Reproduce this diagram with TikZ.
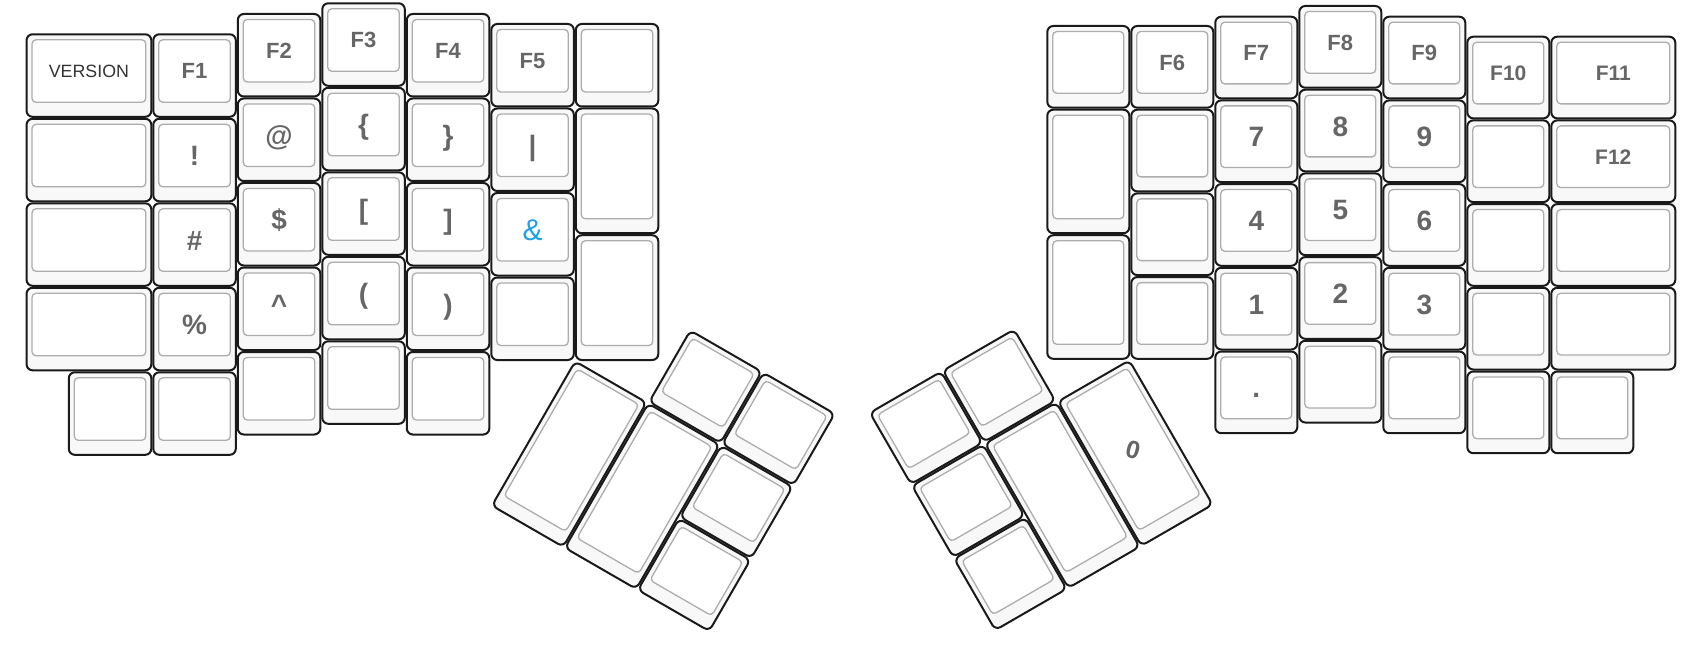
\documentclass[tikz,border=0pt]{standalone}
\usepackage{fontspec}
\setmainfont{Liberation Sans}
\definecolor{keyfill}{HTML}{F8F8F8}
\definecolor{keyline}{HTML}{1A1A1A}
\definecolor{innerline}{HTML}{ADADAD}
\definecolor{labelgray}{HTML}{666666}
\definecolor{vergray}{HTML}{333333}
\definecolor{ampblue}{HTML}{1DA1E6}
\newcounter{kc}
\def\Ux{84.5}\def\Uy{84.5}
\tikzset{
  keyout/.style={draw=keyline, fill=keyfill, line width=1pt, rounded corners=3pt},
  keyin/.style={draw=innerline, fill=white, line width=0.65pt, rounded corners=2pt},
  klabel/.style={text=labelgray, inner sep=0pt, text depth=0pt,
    font=\bfseries\fontsize{14}{16}\selectfont, text height=10pt},
  fk/.style={font=\bfseries\fontsize{11}{13}\selectfont, text height=7.9pt},
  fkk/.style={font=\bfseries\fontsize{10.5}{12}\selectfont, text height=7.5pt},
  ver/.style={font=\fontsize{8.9}{10}\selectfont, text height=6.4pt, text=vergray},
  amp/.style={font=\fontsize{15}{17}\selectfont, text height=10.7pt, text=ampblue},
  zero/.style={font=\bfseries\fontsize{12.5}{14}\selectfont, text height=9pt, rotate=-15},
}
% \kk[label style]{x}{y}{w}{h}{label}
\newcommand{\kk}[6][]{%
  \draw[keyout] ({#2+1},{#3+1}) rectangle ({#2+#4*\Ux-1},{#3+#5*\Uy-1});
  \draw[keyin] ({#2+6.5},{#3+6.5}) rectangle ({#2+#4*\Ux-6.5},{#3+#5*\Uy-15.5});
  \if\relax\detokenize{#6}\relax\else
    \stepcounter{kc}%
    \node[klabel,#1] (key\arabic{kc}) at ({#2+#4*\Ux/2},{#3+#5*\Uy/2-4.5}) {#6};
  \fi
}
\begin{document}
\begin{tikzpicture}[x=0.5pt,y=-0.5pt]
\useasboundingbox[fill=white] (0,0) rectangle (1699,658);
% ---------------- left half ----------------
\def\Ux{84.5}\def\Uy{84.5}
\kk[ver]{25.55}{33.3}{1.5}{1}{VERSION}
\kk{25.55}{117.8}{1.5}{1}{}
\kk{25.55}{202.3}{1.5}{1}{}
\kk{25.55}{286.8}{1.5}{1}{}
\kk{67.8}{371.3}{1}{1}{}
\kk[fk]{152.3}{33.3}{1}{1}{F1}
\kk{152.3}{117.8}{1}{1}{!}
\kk{152.3}{202.3}{1}{1}{\#}
\kk{152.3}{286.8}{1}{1}{\%}
\kk{152.3}{371.3}{1}{1}{}
\kk[fk]{236.8}{13}{1}{1}{F2}
\kk{236.8}{97.5}{1}{1}{@}
\kk{236.8}{182}{1}{1}{\$}
\kk{236.8}{266.5}{1}{1}{\textasciicircum}
\kk{236.8}{351}{1}{1}{}
\kk[fk]{321.3}{2.3}{1}{1}{F3}
\kk{321.3}{86.8}{1}{1}{\{}
\kk{321.3}{171.3}{1}{1}{[}
\kk{321.3}{255.8}{1}{1}{(}
\kk{321.3}{340.3}{1}{1}{}
\kk[fk]{405.8}{13}{1}{1}{F4}
\kk{405.8}{97.5}{1}{1}{\}}
\kk{405.8}{182}{1}{1}{]}
\kk{405.8}{266.5}{1}{1}{)}
\kk{405.8}{351}{1}{1}{}
\kk[fk]{490.3}{23}{1}{1}{F5}
\kk{490.3}{107.5}{1}{1}{|}
\kk[amp]{490.3}{192}{1}{1}{\&}
\kk{490.3}{276.5}{1}{1}{}
\kk{574.8}{23}{1}{1}{}
\kk{574.8}{107.5}{1}{1.5}{}
\kk{574.8}{234.25}{1}{1.5}{}
% ---------------- right half ----------------
\def\Ux{84}\def\Uy{83.7}
\kk{1046.3}{25}{1}{1}{}
\kk{1046.3}{108.7}{1}{1.5}{}
\kk{1046.3}{234.25}{1}{1.5}{}
\kk[fk]{1130.3}{25}{1}{1}{F6}
\kk{1130.3}{108.7}{1}{1}{}
\kk{1130.3}{192.4}{1}{1}{}
\kk{1130.3}{276.1}{1}{1}{}
\kk[fk]{1214.3}{15.7}{1}{1}{F7}
\kk{1214.3}{99.4}{1}{1}{7}
\kk{1214.3}{183.1}{1}{1}{4}
\kk{1214.3}{266.8}{1}{1}{1}
\kk{1214.3}{350.5}{1}{1}{.}
\kk[fk]{1298.3}{5}{1}{1}{F8}
\kk{1298.3}{88.7}{1}{1}{8}
\kk{1298.3}{172.4}{1}{1}{5}
\kk{1298.3}{256.1}{1}{1}{2}
\kk{1298.3}{339.8}{1}{1}{}
\kk[fk]{1382.3}{15.7}{1}{1}{F9}
\kk{1382.3}{99.4}{1}{1}{9}
\kk{1382.3}{183.1}{1}{1}{6}
\kk{1382.3}{266.8}{1}{1}{3}
\kk{1382.3}{350.5}{1}{1}{}
\kk[fkk]{1466.3}{35.7}{1}{1}{F10}
\kk{1466.3}{119.4}{1}{1}{}
\kk{1466.3}{203.1}{1}{1}{}
\kk{1466.3}{286.8}{1}{1}{}
\kk{1466.3}{370.5}{1}{1}{}
\kk[fkk]{1550.3}{35.7}{1.5}{1}{F11}
\kk[fkk]{1550.3}{119.4}{1.5}{1}{F12}
\kk{1550.3}{203.1}{1.5}{1}{}
\kk{1550.3}{286.8}{1.5}{1}{}
\kk{1550.3}{370.5}{1}{1}{}
% ---------------- thumb clusters ----------------
\def\Ux{84.3}\def\Uy{84.3}
\begin{scope}[shift={(617,287)}, rotate=-30]
\kk{84.3}{0}{1}{1}{}
\kk{168.6}{0}{1}{1}{}
\kk{168.6}{84.3}{1}{1}{}
\kk{0}{84.3}{1}{2}{}
\kk{84.3}{84.3}{1}{2}{}
\kk{168.6}{168.6}{1}{1}{}
\end{scope}
\begin{scope}[shift={(1087.5,286)}, rotate=30]
\kk{-168.6}{0}{1}{1}{}
\kk{-252.9}{0}{1}{1}{}
\kk{-252.9}{84.3}{1}{1}{}
\kk[zero]{-84.3}{84.3}{1}{2}{0}
\kk{-168.6}{84.3}{1}{2}{}
\kk{-252.9}{168.6}{1}{1}{}
\end{scope}
\end{tikzpicture}
\end{document}
